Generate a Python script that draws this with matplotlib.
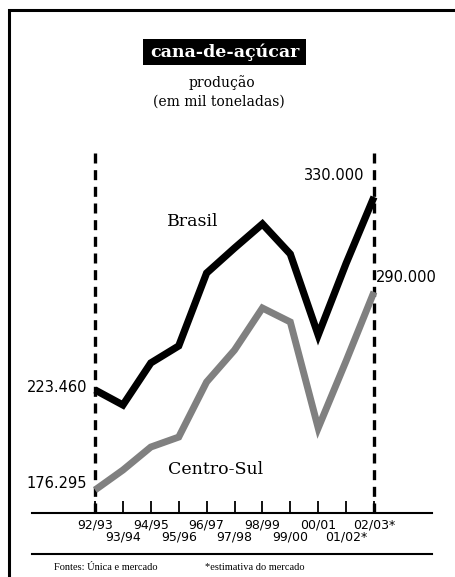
import matplotlib
matplotlib.use("Agg")
import matplotlib.pyplot as plt
from matplotlib.lines import Line2D
from matplotlib.patches import Rectangle
from matplotlib.transforms import blended_transform_factory

# ---- data (mil toneladas) ----
safras = ["92/93", "93/94", "94/95", "95/96", "96/97", "97/98",
          "98/99", "99/00", "00/01", "01/02*", "02/03*"]
brasil = [223.5, 215.2, 238.4, 247.8, 288.0, 301.8, 315.1, 298.5, 253.8, 293.3, 330.0]
centro_sul = [168.3, 179.3, 192.0, 197.5, 227.9, 245.5, 268.7, 261.0, 202.5, 239.5, 277.6]
label_brasil_ini = "223.460"
label_brasil_fim = "330.000"
label_cs_ini = "176.295"
label_cs_fim = "290.000"

W, H = 455, 577
fig = plt.figure(figsize=(W / 100, H / 100), dpi=100)
fig.patch.set_facecolor("white")

def fx(px):
    return px / W

def fy(py):
    return 1 - py / H

SERIF = ["DejaVu Serif"]
SANS = ["DejaVu Sans"]

ax = fig.add_axes([fx(32), fy(513), fx(432) - fx(32), fy(152) - fy(513)])
ax.set_xlim(-2.26, 12.08)
ax.set_ylim(155.6, 354.8)
for s in ["top", "left", "right"]:
    ax.spines[s].set_visible(False)
ax.spines["bottom"].set_linewidth(1.5)
ax.set_yticks([])
x = list(range(len(safras)))
ax.set_xticks(x)
ax.tick_params(axis="x", direction="in", length=9, width=1.3, labelbottom=False)
ax.patch.set_alpha(0)

# dashed verticals
for xv in (0, len(safras) - 1):
    ax.axvline(xv, color="black", lw=2.4, linestyle=(0, (3, 2)), dash_capstyle="butt")

ax.plot(x, centro_sul, color="#808080", lw=5.0, solid_joinstyle="miter", solid_capstyle="butt")
ax.plot(x, brasil, color="black", lw=5.2, solid_joinstyle="miter", solid_capstyle="butt")

# tick labels, staggered
tr = blended_transform_factory(ax.transData, fig.transFigure)
for i, lab in enumerate(safras):
    yy = fy(525) if i % 2 == 0 else fy(537)
    ax.text(i, yy, lab, transform=tr, ha="center", va="center",
            fontsize=9, family=SANS)

# value labels
fig.text(fx(87), fy(388), label_brasil_ini, ha="right", va="center", fontsize=10.5, family=SANS)
fig.text(fx(87), fy(483), label_cs_ini, ha="right", va="center", fontsize=10.5, family=SANS)
fig.text(fx(364), fy(175), label_brasil_fim, ha="right", va="center", fontsize=10.5, family=SANS)
fig.text(fx(376), fy(278), label_cs_fim, ha="left", va="center", fontsize=10.5, family=SANS)

# series names
fig.text(fx(193), fy(221), "Brasil", ha="center", va="center", fontsize=12.5, family=SERIF)
fig.text(fx(216), fy(469), "Centro-Sul", ha="center", va="center", fontsize=12.5, family=SERIF)

# title box
fig.add_artist(Rectangle((fx(143), fy(65)), fx(306) - fx(143), fy(39) - fy(65),
                         transform=fig.transFigure, facecolor="black", edgecolor="none"))
fig.text(fx(224.5), fy(52), "cana-de-açúcar", ha="center", va="center", color="white",
         fontsize=12.5, fontweight="bold", family=SERIF)
fig.text(fx(222), fy(83), "produção", ha="center", va="center", fontsize=10, family=SERIF)
fig.text(fx(219), fy(102), "(em mil toneladas)", ha="center", va="center", fontsize=10, family=SERIF)

# lower rule and footer
fig.add_artist(Line2D([fx(32), fx(432)], [fy(554), fy(554)], color="black", lw=1.5,
                      transform=fig.transFigure))
fig.text(fx(54), fy(568), "Fontes: Única e mercado", ha="left", va="center", fontsize=7.5,
         family=["Liberation Serif"])
fig.text(fx(205), fy(568), "*estimativa do mercado", ha="left", va="center", fontsize=7.5,
         family=["Liberation Serif"])

# outer frame (left and top)
fig.add_artist(Line2D([fx(8.5), fx(8.5), 1.0], [0.0, fy(9.5), fy(9.5)], color="black", lw=2.2,
                      transform=fig.transFigure, solid_joinstyle="miter"))

fig.savefig("out.png", dpi=100)
